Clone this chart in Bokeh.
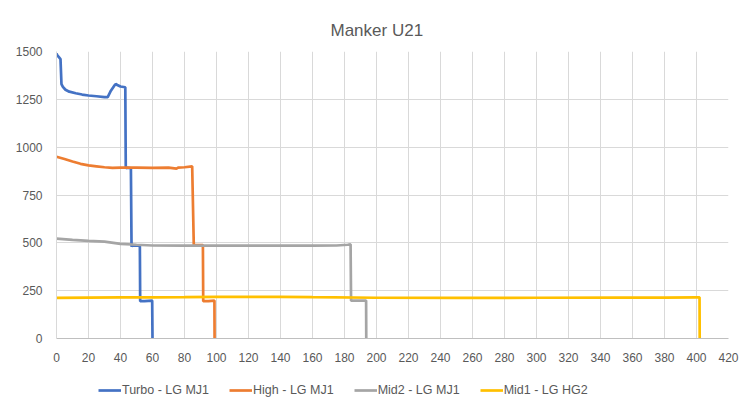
from bokeh.plotting import figure
from bokeh.models import Range1d, FixedTicker, Legend, LegendItem
from bokeh.layouts import column
from bokeh.embed import file_html
from bokeh.resources import INLINE

# ---- data (time in minutes, output in lumens) ----
turbo_x = [0, 0.5, 1.5, 2.5, 3.1, 4, 5.6, 8, 12, 16, 20, 25, 30, 32, 34, 36, 37, 38, 40, 43, 43.3, 44, 46.5, 46.9, 47.2, 50, 52.1, 52.3, 55, 59.8, 60]
turbo_y = [1490, 1480, 1470, 1460, 1330, 1315, 1300, 1290, 1282, 1275, 1270, 1266, 1262, 1262, 1295, 1320, 1330, 1325, 1317, 1313, 890, 893, 890, 480, 485, 485, 485, 195, 195, 198, 0]

high_x = [0, 5, 10, 15, 20, 25, 30, 35, 40, 50, 60, 70, 75, 76, 80, 84.8, 85.8, 86.1, 90, 91.5, 91.7, 95, 98.7, 98.8]
high_y = [950, 938, 925, 913, 905, 900, 895, 892, 893, 893, 892, 893, 888, 893, 895, 900, 490, 488, 488, 488, 195, 195, 198, 0]

mid2_x = [0, 10, 20, 30, 40, 50, 60, 80, 100, 120, 140, 160, 175, 182, 183.8, 184.1, 190, 193.5, 193.6]
mid2_y = [522, 515, 510, 506, 495, 490, 486, 485, 485, 485, 485, 485, 486, 490, 492, 198, 198, 198, 0]

mid1_x = [0, 20, 40, 60, 80, 100, 120, 140, 160, 200, 250, 300, 350, 380, 400, 401.9, 402]
mid1_y = [212, 214, 215, 215, 216, 218, 218, 218, 216, 213, 212, 213, 214, 214, 215, 215, 0]

series_names = ["Turbo - LG MJ1", "High - LG MJ1", "Mid2 - LG MJ1", "Mid1 - LG HG2"]
series_colors = ["#4472C4", "#ED7D31", "#A5A5A5", "#FFC000"]

x_ticks = list(range(0, 421, 20))
y_ticks = [0, 250, 500, 750, 1000, 1250, 1500]

FONT = "Liberation Sans"
TXT = "#595959"

p = figure(width=739, height=365, output_backend="svg", toolbar_location=None,
           title="Manker U21",
           x_range=Range1d(0, 420), y_range=Range1d(0, 1500),
           min_border_left=56, min_border_right=11, min_border_top=51, min_border_bottom=27)

p.title.align = "left"
p.title.text_font = FONT
p.title.text_font_size = "17px"
p.title.text_font_style = "normal"
p.title.text_color = TXT
p.title.standoff = 24
p.title.offset = 274

p.outline_line_color = None
p.xaxis.ticker = FixedTicker(ticks=x_ticks)
p.yaxis.ticker = FixedTicker(ticks=y_ticks)
for ax in (p.xaxis[0], p.yaxis[0]):
    ax.major_tick_line_color = None
    ax.minor_tick_line_color = None
    ax.axis_line_color = "#BFBFBF"
    ax.major_label_text_font = FONT
    ax.major_label_text_font_size = "12px"
    ax.major_label_text_color = TXT
    ax.major_label_standoff = 8
p.yaxis[0].axis_line_color = "#D9D9D9"

p.xgrid.grid_line_color = "#D9D9D9"
p.ygrid.grid_line_color = "#D9D9D9"
p.xgrid.ticker = FixedTicker(ticks=x_ticks)
p.ygrid.ticker = FixedTicker(ticks=y_ticks)

all_x = [turbo_x, high_x, mid2_x, mid1_x]
all_y = [turbo_y, high_y, mid2_y, mid1_y]
for xs, ys, c in zip(all_x, all_y, series_colors):
    p.line(xs, ys, line_color=c, line_width=2.7)

# legend strip (separate figure so the legend is not clipped); its view range
# lies outside the data so only the legend is visible
lg = figure(width=739, height=40, output_backend="svg", toolbar_location=None,
            x_range=Range1d(5000, 5001), y_range=Range1d(5000, 5001),
            min_border_left=0, min_border_right=0, min_border_top=0, min_border_bottom=0)
lg.axis.visible = False
lg.grid.visible = False
lg.outline_line_color = None
leg_renderers = [lg.line(xs, ys, line_color=c, line_width=2.7)
                 for xs, ys, c in zip(all_x, all_y, series_colors)]

legend = Legend(items=[LegendItem(label=n, renderers=[r]) for n, r in zip(series_names, leg_renderers)],
                orientation="horizontal", location=(42, 5),
                label_text_font=FONT, label_text_font_size="12.5px", label_text_color=TXT,
                glyph_width=23, spacing=20, label_standoff=1,
                border_line_color=None, background_fill_alpha=0, margin=0, padding=4)
lg.add_layout(legend, "center")

layout = column(p, lg, spacing=0)
open("out.html", "w").write(file_html(layout, INLINE))
